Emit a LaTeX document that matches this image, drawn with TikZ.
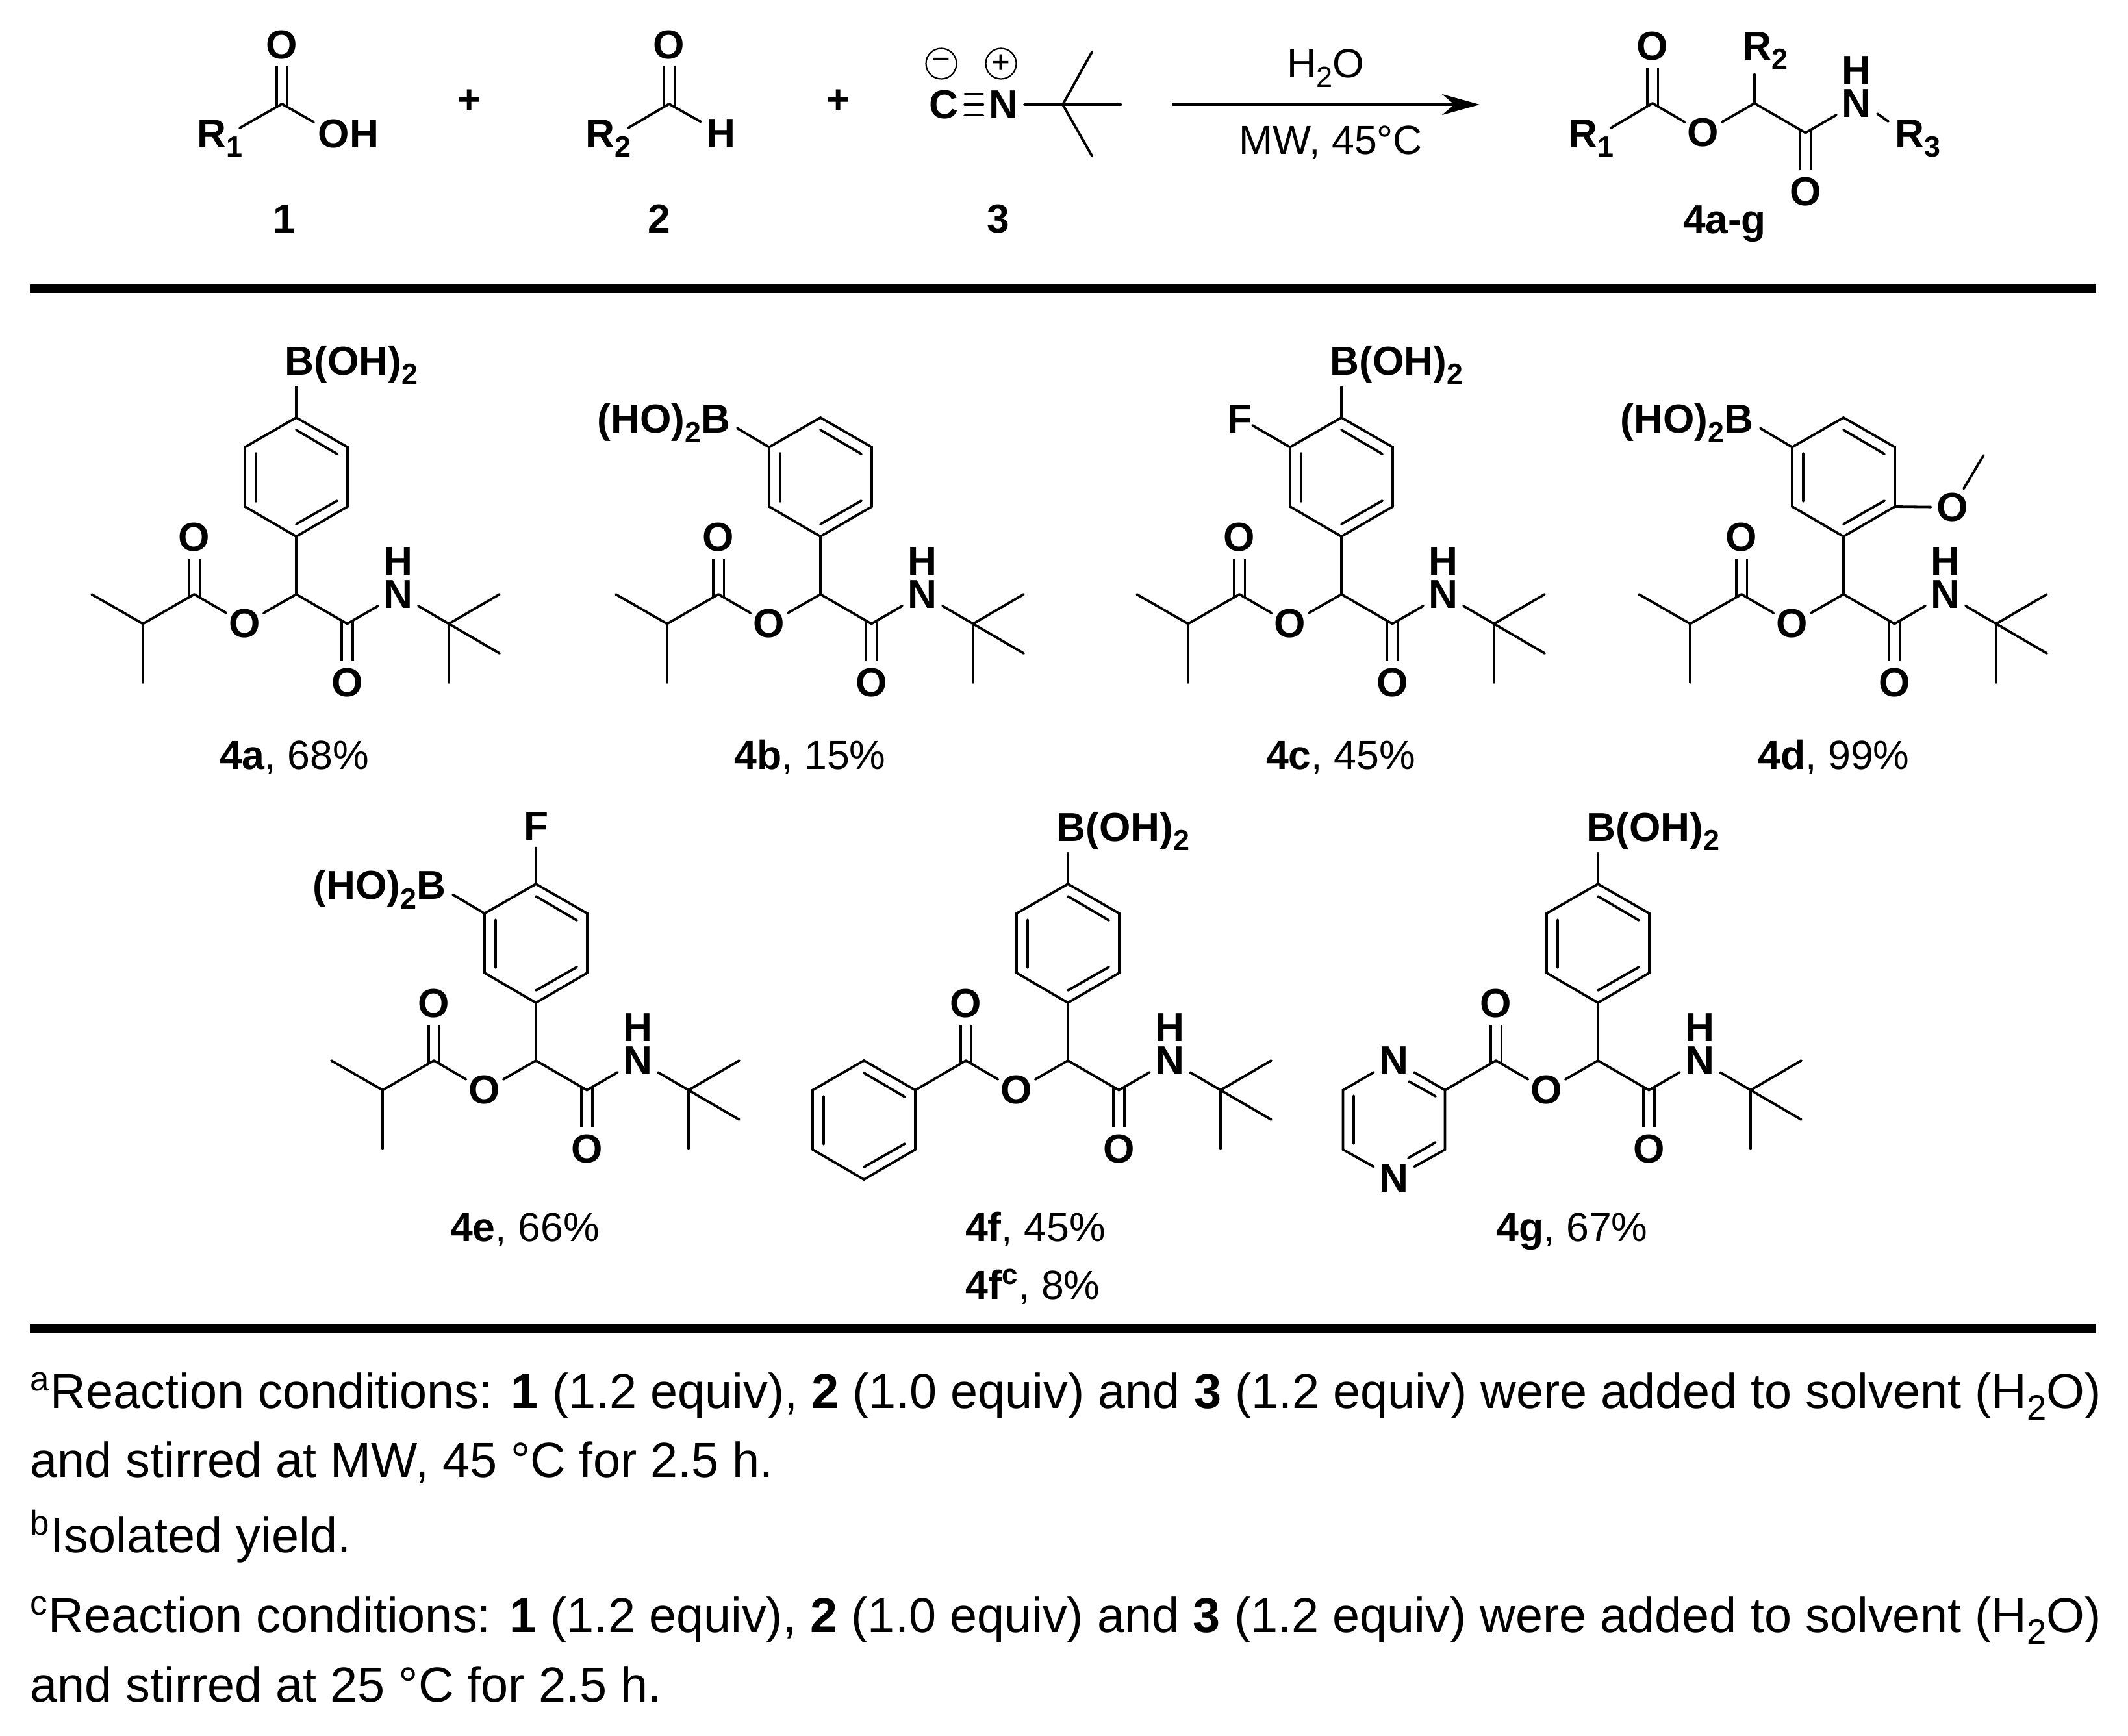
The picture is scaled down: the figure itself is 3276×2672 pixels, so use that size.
\documentclass[tikz,border=0pt]{standalone}
\usepackage{fontspec}
\setmainfont{Liberation Sans}
\usetikzlibrary{arrows.meta}
\newcommand{\atomfont}{\bfseries\fontsize{17.7}{20}\selectfont}
\newcommand{\captionfont}{\fontsize{17.8}{20}\selectfont}
\newcommand{\notefont}{\fontsize{21.5}{24}\selectfont}
\newcommand{\chemsub}[1]{\raisebox{-0.24em}{\scalebox{0.72}{#1}}}
\tikzstyle{bond} = [line width=0.038cm, line cap=round]
\tikzstyle{dbl} = [line width=0.038cm, double, double distance=0.13cm, shorten >=-0.04cm]
\tikzstyle{atom} = [circle, inner sep=0pt, font=\atomfont]
\tikzstyle{wideatom} = [atom, outer sep=0.05cm]
\tikzstyle{chemlabel} = [inner sep=0pt, font=\atomfont]
\tikzstyle{plain} = [inner sep=0pt, font=\captionfont, anchor=base]
\tikzstyle{charge} = [draw, circle, line width=0.022cm, minimum size=0.47cm, inner sep=0pt, font=\fontsize{14}{14}\selectfont]
\tikzstyle{heavyrule} = [line width=0.13cm]
\tikzstyle{note} = [inner sep=0pt, font=\notefont, anchor=base west]
\newcommand{\corechain}{
    \coordinate (ch) at (0,0);
    \coordinate (co) at (78.5,45.5);
    \coordinate (ce) at (-157,0);
    \node[atom] (oamide) at (78.5,136) {O};
    \node[atom] (oester) at (-79,45.5) {O};
    \node[atom] (ocarb) at (-157,-88) {O};
    \node[wideatom] (nh) at (157,0) {N};
    \node[atom] (hn) at (157,-51) {H};
    \draw[dbl] (oamide) -- (co);
    \draw[dbl] (ocarb) -- (ce);
    \draw[bond] (ce) -- (oester) -- (ch) -- (co) -- (nh);
}
\newcommand{\fullchain}{
    \corechain
    \coordinate (cb) at (0,-89);
    \coordinate (cq) at (235,45.5);
    \coordinate (mea) at (313,0);
    \coordinate (meb) at (313,91);
    \coordinate (mec) at (235,136);
    \draw[bond] (ch) -- (cb);
    \draw[bond] (nh) -- (cq) -- (mea) (cq) -- (meb) (cq) -- (mec);
}
\newcommand{\isopropyl}{
    \coordinate (ipc) at (-236,45.5);
    \coordinate (ipa) at (-315,0);
    \coordinate (ipb) at (-236,136);
    \draw[bond] (ce) -- (ipc) -- (ipa) (ipc) -- (ipb);
}
\newcommand{\benzene}{
    \coordinate (ra) at (0,0);
    \coordinate (rb) at (79,45.5);
    \coordinate (rc) at (79,137);
    \coordinate (rd) at (0,183);
    \coordinate (re) at (-79,137);
    \coordinate (rf) at (-79,45.5);
    \draw[bond] (ra) -- (rb) -- (rc) -- (rd) -- (re) -- (rf) -- cycle;
    \draw[bond] (0,19) -- (63,56) (-62,55) -- (-62,129) (0,164) -- (63,128);
}
\newcommand{\paraboron}{
    \coordinate (bstem) at (0,-47);
    \node[chemlabel, anchor=base west] (boh) at (-18,-66) {B(OH)\chemsub{2}};
    \draw[bond] (ra) -- (bstem);
}
\newcommand{\metaboron}{
    \coordinate (bstem) at (-128,16.5);
    \node[chemlabel, anchor=base east] (hob) at (-138,23.5) {(HO)\chemsub{2}B};
    \draw[bond] (rf) -- (bstem);
}
\begin{document}
\begin{tikzpicture}[x=0.01cm, y=-0.01cm]
\useasboundingbox (0,0) rectangle (3276,2672);

\coordinate (acidc) at (434,160);
\coordinate (acidrend) at (369,197);
\coordinate (acidohend) at (483,188);
\node[atom] (acido) at (434,69) {O};
\node[chemlabel, anchor=base west] (acidr) at (303,227) {R\chemsub{1}};
\node[chemlabel, anchor=base west] (acidoh) at (489,227) {OH};
\draw[dbl] (acido) -- (acidc);
\draw[bond] (acidrend) -- (acidc) -- (acidohend);
\node[chemlabel, anchor=base] (acidnum) at (438,358) {1};
\node[chemlabel] (plusa) at (723,156) {+};

\coordinate (aldc) at (1030,160);
\coordinate (aldrend) at (967,197);
\node[atom] (aldo) at (1030,69) {O};
\node[chemlabel, anchor=base west] (aldr) at (901,227) {R\chemsub{2}};
\node[wideatom] (aldh) at (1110,205) {H};
\draw[dbl] (aldo) -- (aldc);
\draw[bond] (aldrend) -- (aldc) -- (aldh);
\node[chemlabel, anchor=base] (aldnum) at (1015,358) {2};
\node[chemlabel] (plusb) at (1291,156) {+};

\node[atom] (isoc) at (1453,161) {C};
\node[atom] (ison) at (1545,161) {N};
\node[charge] (minus) at (1449,98) {−};
\node[charge] (plus) at (1541,98) {+};
\coordinate (isoq) at (1636,161);
\coordinate (isoa) at (1681,80);
\coordinate (isob) at (1681,240);
\coordinate (isom) at (1726,161);
\draw[bond] (isoc) -- (ison) ([yshift=0.165cm]isoc.east) -- ([yshift=0.165cm]ison.west) ([yshift=-0.165cm]isoc.east) -- ([yshift=-0.165cm]ison.west);
\draw[bond] (ison) -- (isom) (isoq) -- (isoa) (isoq) -- (isob);
\node[chemlabel, anchor=base] (isonum) at (1537,358) {3};

\coordinate (arrowa) at (1805,161);
\coordinate (arrowb) at (2278,161);
\draw[line width=0.04cm, -{Stealth[length=0.58cm, width=0.32cm]}] (arrowa) -- (arrowb);
\node[plain] (water) at (2041,119) {H\chemsub{2}O};
\node[plain] (micro) at (2049,237) {MW, 45°C};

\begin{scope}[shift={(2701,159)}, name prefix=prod-]
    \corechain
    \coordinate (rsup) at (0,-45);
    \coordinate (rone) at (-221,38);
    \coordinate (rthree) at (206,28);
    \coordinate (nend) at (189,16);
    \node[chemlabel, anchor=base west] (labtwo) at (-19,-67) {R\chemsub{2}};
    \node[chemlabel, anchor=base west] (labone) at (-287,68) {R\chemsub{1}};
    \node[chemlabel, anchor=base west] (labthree) at (216,68) {R\chemsub{3}};
    \draw[bond] (ch) -- (rsup) (ce) -- (rone) (nend) -- (rthree);
\end{scope}
\node[chemlabel, anchor=base] (prodnum) at (2655,359) {4a-g};

\coordinate (rulea) at (46,444);
\coordinate (ruleb) at (3227,444);
\draw[heavyrule] (rulea) -- (ruleb);

\begin{scope}[shift={(456,915)}, name prefix=a-]
    \fullchain
    \isopropyl
    \begin{scope}[shift={(0,-272)}]
        \benzene
        \paraboron
    \end{scope}
\end{scope}
\node[plain] (capa) at (453,1184) {\textbf{4a}, 68\%};

\begin{scope}[shift={(1263,915)}, name prefix=b-]
    \fullchain
    \isopropyl
    \begin{scope}[shift={(0,-272)}]
        \benzene
        \metaboron
    \end{scope}
\end{scope}
\node[plain] (capb) at (1247,1184) {\textbf{4b}, 15\%};

\begin{scope}[shift={(2065,915)}, name prefix=c-]
    \fullchain
    \isopropyl
    \begin{scope}[shift={(0,-272)}]
        \benzene
        \paraboron
        \coordinate (fend) at (-137,12);
        \node[atom] (fl) at (-157,2) {F};
        \draw[bond] (rf) -- (fend);
    \end{scope}
\end{scope}
\node[plain] (capc) at (2064,1184) {\textbf{4c}, 45\%};

\begin{scope}[shift={(2838,915)}, name prefix=d-]
    \fullchain
    \isopropyl
    \begin{scope}[shift={(0,-272)}]
        \benzene
        \metaboron
        \coordinate (ome) at (215.6,58);
        \node[atom] (oxy) at (168,138) {O};
        \draw[bond] (rc) -- (oxy) -- (ome);
    \end{scope}
\end{scope}
\node[plain] (capd) at (2823,1184) {\textbf{4d}, 99\%};

\begin{scope}[shift={(825,1633)}, name prefix=e-]
    \fullchain
    \isopropyl
    \begin{scope}[shift={(0,-272)}]
        \benzene
        \metaboron
        \node[wideatom] (fl) at (0,-89) {F};
        \draw[bond] (ra) -- (fl);
    \end{scope}
\end{scope}
\node[plain] (cape) at (808,1911) {\textbf{4e}, 66\%};

\begin{scope}[shift={(1644,1633)}, name prefix=f-]
    \fullchain
    \begin{scope}[shift={(0,-272)}]
        \benzene
        \paraboron
    \end{scope}
    \begin{scope}[shift={(-314,0)}, name prefix=fp-]
        \benzene
    \end{scope}
    \draw[bond] (f-ce) -- (fp-rb);
\end{scope}
\node[plain] (capf) at (1594,1911) {\textbf{4f}, 45\%};
\node[plain] (capfc) at (1590,2000) {\textbf{4f\textsuperscript{c}}, 8\%};

\begin{scope}[shift={(2460,1633)}, name prefix=g-]
    \fullchain
    \begin{scope}[shift={(0,-272)}]
        \benzene
        \paraboron
    \end{scope}
    \begin{scope}[shift={(-314,0)}]
        \coordinate (pb) at (78.5,45.5);
        \coordinate (pc) at (78.5,137);
        \coordinate (pe) at (-78.5,137);
        \coordinate (pf) at (-78.5,45.5);
        \node[wideatom] (pna) at (0,0) {N};
        \node[wideatom] (pnb) at (0,181) {N};
        \draw[bond] (pna) -- (pb) -- (pc) -- (pnb) -- (pe) -- (pf) -- (pna);
        \draw[bond] (23,32) -- (64,55) (-62,54) -- (-62,128) (22,150) -- (64,126);
    \end{scope}
    \draw[bond] (ce) -- (pb);
\end{scope}
\node[plain] (capg) at (2420,1911) {\textbf{4g}, 67\%};

\coordinate (rulec) at (46,2045);
\coordinate (ruled) at (3227,2045);
\draw[heavyrule] (rulec) -- (ruled);

\node[note] (notea) at (46,2168) {\makebox[31.86cm][s]{\textsuperscript{a}Reaction conditions: \textbf{1} (1.2 equiv), \textbf{2} (1.0 equiv) and \textbf{3} (1.2 equiv) were added to solvent (H\chemsub{2}O)}};
\node[note] (noteb) at (46,2274) {and stirred at MW, 45 °C for 2.5 h.};
\node[note] (notec) at (46,2390) {\textsuperscript{b}Isolated yield.};
\node[note] (noted) at (46,2513) {\makebox[31.86cm][s]{\textsuperscript{c}Reaction conditions: \textbf{1} (1.2 equiv), \textbf{2} (1.0 equiv) and \textbf{3} (1.2 equiv) were added to solvent (H\chemsub{2}O)}};
\node[note] (notee) at (46,2620) {and stirred at 25 °C for 2.5 h.};
\end{tikzpicture}
\end{document}
